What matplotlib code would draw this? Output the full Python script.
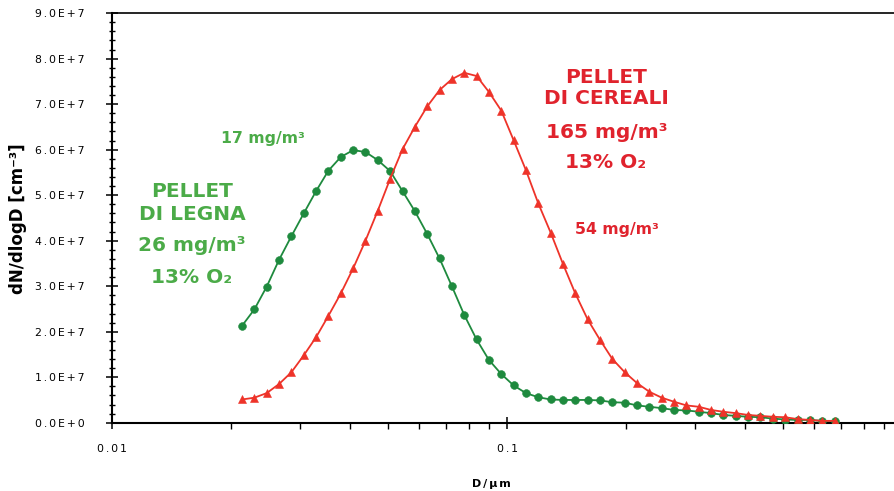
import matplotlib
matplotlib.use("Agg")
import matplotlib.pyplot as plt
from matplotlib.ticker import FixedLocator, FuncFormatter, NullFormatter, LogLocator

# Particle mobility diameter (µm), SMPS channels
diameter_um = [
    0.02134, 0.02293, 0.02464, 0.02648, 0.02846, 0.03058, 0.03286, 0.03531,
    0.03795, 0.04078, 0.04382, 0.04709, 0.05060, 0.05438, 0.05843, 0.06279,
    0.06748, 0.07251, 0.07792, 0.08374, 0.08998, 0.09670, 0.10391, 0.11166,
    0.12000, 0.12895, 0.13857, 0.14891, 0.16002, 0.17196, 0.18479, 0.19858,
    0.2134, 0.2293, 0.2464, 0.2648, 0.2846, 0.3058, 0.3286, 0.3531,
    0.3795, 0.4078, 0.4382, 0.4709, 0.5060, 0.5438, 0.5843, 0.6279, 0.6748,
]

# dN/dlogD in units of 1e7 cm^-3
wood_pellet = [
    2.13, 2.49, 2.99, 3.58, 4.10, 4.60, 5.09, 5.54,
    5.84, 5.99, 5.95, 5.77, 5.53, 5.09, 4.65, 4.15,
    3.61, 3.00, 2.37, 1.83, 1.38, 1.07, 0.82, 0.65,
    0.56, 0.51, 0.50, 0.50, 0.50, 0.49, 0.45, 0.44,
    0.38, 0.35, 0.32, 0.28, 0.27, 0.24, 0.21, 0.17,
    0.15, 0.13, 0.12, 0.09, 0.07, 0.06, 0.06, 0.04, 0.04,
]
cereal_pellet = [
    0.51, 0.55, 0.65, 0.85, 1.11, 1.48, 1.88, 2.35,
    2.84, 3.39, 4.00, 4.66, 5.36, 6.01, 6.50, 6.95,
    7.31, 7.55, 7.69, 7.62, 7.27, 6.86, 6.21, 5.55,
    4.82, 4.18, 3.49, 2.84, 2.27, 1.82, 1.40, 1.11,
    0.87, 0.68, 0.55, 0.46, 0.38, 0.35, 0.28, 0.24,
    0.21, 0.17, 0.15, 0.13, 0.12, 0.08, 0.06, 0.04, 0.04,
]

y_tick_values = [0, 1e7, 2e7, 3e7, 4e7, 5e7, 6e7, 7e7, 8e7, 9e7]
y_tick_labels = ["0.0E+0", "1.0E+7", "2.0E+7", "3.0E+7", "4.0E+7",
                 "5.0E+7", "6.0E+7", "7.0E+7", "8.0E+7", "9.0E+7"]
x_tick_values = [0.01, 0.1]
x_tick_labels = ["0.01", "0.1"]

GREEN_MARK = "#1e8a3e"
GREEN_TEXT = "#4bab48"
RED_MARK = "#ee3329"
RED_TEXT = "#e0232d"

W, H = 894, 491
fig = plt.figure(figsize=(W / 100, H / 100), dpi=100)

x0, x1 = 112, 894
y_top, y_bot = 13.2, 422.7
ax = fig.add_axes([x0 / W, 1 - y_bot / H, (x1 - x0) / W, (y_bot - y_top) / H])

ax.set_xscale("log")
ax.set_xlim(0.01, 0.9544)
ax.set_ylim(0, 9e7)

scale = 1e7
ax.plot(diameter_um, [v * scale for v in wood_pellet], color=GREEN_MARK,
        lw=1.3, marker="o", ms=5.6, mew=0.4, mec=GREEN_MARK, mfc=GREEN_MARK, zorder=3)
ax.plot(diameter_um, [v * scale for v in cereal_pellet], color=RED_MARK,
        lw=1.3, marker="^", ms=5.9, mew=0.4, mec=RED_MARK, mfc=RED_MARK, zorder=4)

GAP = "\u2006"


def spaced(s):
    return GAP.join(s)


# y axis ticks
ax.yaxis.set_major_locator(FixedLocator(y_tick_values))
ax.yaxis.set_minor_locator(FixedLocator([v * 2e6 for v in range(46)]))
ylab = dict(zip(y_tick_values, y_tick_labels))
ax.yaxis.set_major_formatter(FuncFormatter(lambda v, p: spaced(ylab.get(v, ""))))
ax.tick_params(axis="y", which="major", direction="inout", length=8.6, width=1.1,
               pad=15.5, labelsize=7.8, colors="black")
ax.tick_params(axis="y", which="minor", direction="inout", length=3.8, width=1.0)

# x axis ticks
ax.xaxis.set_major_locator(FixedLocator(x_tick_values))
ax.xaxis.set_minor_locator(LogLocator(base=10, subs=range(2, 10)))
ax.xaxis.set_minor_formatter(NullFormatter())
xlab = dict(zip(x_tick_values, x_tick_labels))
ax.xaxis.set_major_formatter(FuncFormatter(lambda v, p: spaced(xlab.get(round(v, 4), ""))))
ax.tick_params(axis="x", which="major", direction="inout", length=9.0, width=1.1,
               pad=10.5, labelsize=7.8)
ax.tick_params(axis="x", which="minor", direction="out", length=4.5, width=1.0)

for side in ("left", "bottom"):
    ax.spines[side].set_linewidth(1.5)
ax.spines["top"].set_linewidth(1.2)
ax.spines["right"].set_visible(False)


def put(xp, yp, s, size, color, weight="bold"):
    fig.text(xp / W, 1 - yp / H, s, ha="center", va="baseline",
             fontsize=size, color=color, fontweight=weight,
             family=["DejaVu Sans"])


# axis titles
fig.text(491 / W, 1 - 487 / H, spaced("D/µm"), ha="center", va="baseline",
         fontsize=8.0, fontweight="bold")
fig.text(18 / W, 1 - 219 / H, "dN/dlogD [cm\u207b\u00b3]", rotation=90,
         ha="center", va="center", fontsize=12, fontweight="bold")

# wood pellet annotations
put(263, 142.7, "17 mg/m\u00b3", 11.3, GREEN_TEXT)
put(192, 197.3, "PELLET", 14.5, GREEN_TEXT)
put(192, 220, "DI LEGNA", 14.5, GREEN_TEXT)
put(192, 251, "26 mg/m\u00b3", 14.5, GREEN_TEXT)
put(192, 283, "13% O\u2082", 14.5, GREEN_TEXT)

# cereal pellet annotations
put(606, 83.3, "PELLET", 14.5, RED_TEXT)
put(606, 104, "DI CEREALI", 14.5, RED_TEXT)
put(607, 138.3, "165 mg/m\u00b3", 14.5, RED_TEXT)
put(606, 168.3, "13% O\u2082", 14.5, RED_TEXT)
put(617, 234.3, "54 mg/m\u00b3", 11.3, RED_TEXT)

fig.savefig("out.png", dpi=100)
